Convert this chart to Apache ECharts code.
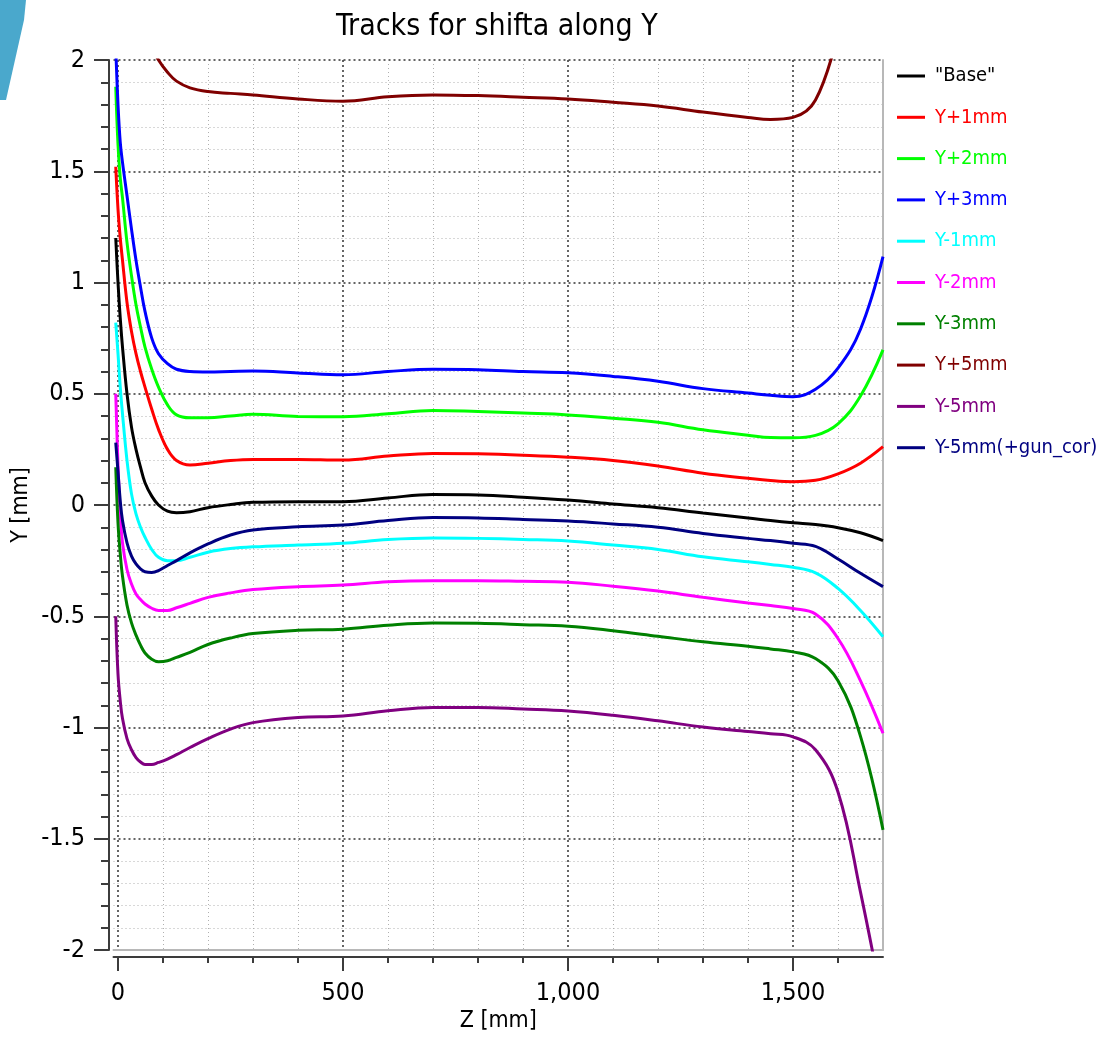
<!DOCTYPE html>
<html>
<head>
<meta charset="utf-8">
<script src="https://cdn.jsdelivr.net/npm/echarts@6/dist/echarts.min.js"></script>
<style>html,body{margin:0;padding:0;background:#fff}#main{width:1101px;height:1037px}</style>
</head>
<body>
<div id="main"></div>
<script>
var z = [-5, 0, 5, 10, 20, 30, 40, 50, 60, 75, 90, 110, 130, 160, 200, 250, 300, 400, 500, 600, 700, 800, 900, 1000, 1100, 1200, 1300, 1400, 1450, 1500, 1550, 1600, 1650, 1700]
var base = [1.20, 1.00, 0.84, 0.71, 0.50, 0.35, 0.25, 0.17, 0.10, 0.04, 0.0, -0.028, -0.035, -0.03, -0.012, 0.002, 0.012, 0.015, 0.015, 0.032, 0.047, 0.045, 0.035, 0.022, 0.005, -0.012, -0.036, -0.058, -0.07, -0.08, -0.088, -0.102, -0.125, -0.16]
var yp1 = [1.52, 1.33, 1.20, 1.10, 0.91, 0.78, 0.68, 0.60, 0.53, 0.43, 0.34, 0.25, 0.20, 0.18, 0.188, 0.20, 0.205, 0.205, 0.202, 0.22, 0.232, 0.23, 0.224, 0.215, 0.2, 0.175, 0.143, 0.12, 0.11, 0.105, 0.111, 0.14, 0.188, 0.262]
var yp2 = [1.88, 1.62, 1.47, 1.38, 1.18, 1.03, 0.90, 0.80, 0.71, 0.61, 0.53, 0.45, 0.405, 0.392, 0.392, 0.40, 0.408, 0.398, 0.397, 0.41, 0.425, 0.42, 0.413, 0.405, 0.39, 0.372, 0.338, 0.314, 0.303, 0.302, 0.313, 0.365, 0.49, 0.697]
var yp3 = [2.05, 1.80, 1.63, 1.54, 1.39, 1.24, 1.10, 0.98, 0.87, 0.75, 0.68, 0.635, 0.61, 0.60, 0.598, 0.60, 0.602, 0.593, 0.585, 0.60, 0.61, 0.608, 0.60, 0.594, 0.578, 0.556, 0.523, 0.503, 0.493, 0.487, 0.52, 0.615, 0.79, 1.116]
var ym1 = [0.82, 0.68, 0.53, 0.41, 0.20, 0.05, -0.04, -0.10, -0.145, -0.20, -0.235, -0.25, -0.25, -0.235, -0.212, -0.196, -0.188, -0.18, -0.172, -0.155, -0.148, -0.15, -0.155, -0.162, -0.18, -0.2, -0.233, -0.255, -0.267, -0.28, -0.305, -0.375, -0.474, -0.592]
var ym2 = [0.50, 0.18, -0.04, -0.17, -0.29, -0.355, -0.40, -0.425, -0.445, -0.464, -0.474, -0.474, -0.462, -0.442, -0.415, -0.395, -0.38, -0.367, -0.36, -0.345, -0.34, -0.34, -0.343, -0.347, -0.365, -0.387, -0.415, -0.44, -0.452, -0.465, -0.49, -0.6, -0.79, -1.026]
var ym3 = [0.17, -0.08, -0.22, -0.32, -0.45, -0.53, -0.585, -0.63, -0.665, -0.693, -0.704, -0.70, -0.685, -0.662, -0.627, -0.598, -0.578, -0.563, -0.558, -0.54, -0.53, -0.532, -0.538, -0.545, -0.565, -0.59, -0.615, -0.635, -0.647, -0.66, -0.69, -0.79, -1.04, -1.46]
var yp5 = [null, null, null, null, null, null, null, null, null, 2.06, 2.0, 1.945, 1.905, 1.875, 1.858, 1.85, 1.843, 1.825, 1.815, 1.835, 1.843, 1.84, 1.833, 1.825, 1.81, 1.793, 1.766, 1.742, 1.733, 1.742, 1.82, 2.12, null, null]
var ym5 = [-0.50, -0.76, -0.88, -0.96, -1.05, -1.10, -1.135, -1.155, -1.166, -1.166, -1.157, -1.142, -1.122, -1.09, -1.05, -1.007, -0.978, -0.955, -0.948, -0.925, -0.91, -0.91, -0.917, -0.926, -0.945, -0.97, -0.998, -1.018, -1.028, -1.042, -1.1, -1.29, -1.74, -2.25]
var ym5gun = [0.28, 0.15, 0.02, -0.07, -0.17, -0.23, -0.265, -0.287, -0.30, -0.303, -0.295, -0.272, -0.25, -0.215, -0.175, -0.135, -0.112, -0.098, -0.09, -0.07, -0.056, -0.058, -0.065, -0.072, -0.085, -0.1, -0.128, -0.15, -0.16, -0.172, -0.186, -0.243, -0.307, -0.367]

var names = ['"Base"', 'Y+1mm', 'Y+2mm', 'Y+3mm', 'Y-1mm', 'Y-2mm', 'Y-3mm', 'Y+5mm', 'Y-5mm', 'Y-5mm(+gun_cor)']
var colors = ['#000000', '#ff0000', '#00ff00', '#0000ff', '#00ffff', '#ff00ff', '#008000', '#800000', '#800080', '#000080']
var values = [base, yp1, yp2, yp3, ym1, ym2, ym3, yp5, ym5, ym5gun]
var xTicks = [0, 500, 1000, 1500]

var font = '"DejaVu Sans Condensed", "DejaVu Sans", sans-serif'
var axisDark = '#3c3c3c'

var chart = echarts.init(document.getElementById('main'))

var series = names.map(function (n, k) {
    var d = []
    z.forEach(function (zz, i) {
        if (values[k][i] != null) d.push([zz, values[k][i]])
    })
    return {
        name: n,
        type: 'line',
        data: d,
        symbol: 'none',
        smooth: 0.4,
        clip: true,
        color: colors[k],
        lineStyle: { color: colors[k], width: 3 }
    }
})

chart.setOption({
    backgroundColor: '#fff',
    animation: false,
    textStyle: { fontFamily: font },
    title: {
        text: 'Tracks for shifta along Y',
        left: 331,
        top: 7,
        textStyle: { fontFamily: font, fontSize: 30, fontWeight: 'normal', color: '#000' }
    },
    grid: {
        left: 113.5,
        right: 218,
        top: 60,
        bottom: 87,
        outerBoundsMode: 'none'
    },
    legend: {
        orient: 'vertical',
        left: 892,
        top: 61,
        icon: 'rect',
        itemWidth: 28,
        itemHeight: 3,
        itemGap: 21.3,
        textStyle: { fontFamily: font, fontSize: 20, lineHeight: 20, padding: [0, 0, 0, 5] },
        data: names.map(function (n, k) {
            return { name: n, textStyle: { color: colors[k] } }
        })
    },
    xAxis: [{
        type: 'value',
        min: -10,
        max: 1700,
        minInterval: 500,
        maxInterval: 500,
        position: 'bottom',
        offset: 7,
        name: 'Z [mm]',
        nameLocation: 'middle',
        nameGap: 53,
        nameMoveOverlap: false,
        nameTextStyle: { fontFamily: font, fontSize: 23, color: '#000' },
        axisLine: { show: true, onZero: false, lineStyle: { color: axisDark, width: 2 } },
        axisTick: { show: true, length: 14, customValues: xTicks, lineStyle: { color: axisDark, width: 2 } },
        minorTick: { show: true, splitNumber: 5, length: 6, lineStyle: { color: axisDark, width: 2 } },
        axisLabel: { margin: 24, fontSize: 25, color: '#000', fontFamily: font, customValues: xTicks },
        splitLine: { show: true, lineStyle: { color: '#333', type: [2, 3], width: 1.5 } },
        minorSplitLine: { show: true, lineStyle: { color: '#b0b0b0', type: [1, 3], width: 1 } }
    }, {
        type: 'value',
        min: -10,
        max: 1700,
        position: 'bottom',
        offset: 0,
        axisLine: { show: true, onZero: false, lineStyle: { color: '#b8b8b8', width: 2 } },
        axisTick: { show: false },
        axisLabel: { show: false },
        splitLine: { show: false }
    }],
    yAxis: [{
        type: 'value',
        min: -2,
        max: 2,
        interval: 0.5,
        position: 'left',
        offset: 4.5,
        name: 'Y [mm]',
        nameLocation: 'middle',
        nameGap: 76,
        nameMoveOverlap: false,
        nameTextStyle: { fontFamily: font, fontSize: 23, color: '#000' },
        axisLine: { show: true, onZero: false, lineStyle: { color: axisDark, width: 2 } },
        axisTick: { show: true, length: 15, lineStyle: { color: axisDark, width: 2 } },
        minorTick: { show: true, splitNumber: 5, length: 8, lineStyle: { color: axisDark, width: 2 } },
        axisLabel: { margin: 24, fontSize: 25, color: '#000', fontFamily: font },
        splitLine: { show: true, lineStyle: { color: '#333', type: [2, 3], width: 1.5 } },
        minorSplitLine: { show: true, lineStyle: { color: '#b0b0b0', type: [1, 3], width: 1 } }
    }, {
        type: 'value',
        min: -2,
        max: 2,
        position: 'right',
        axisLine: { show: true, onZero: false, lineStyle: { color: '#b8b8b8', width: 2 } },
        axisTick: { show: false },
        axisLabel: { show: false },
        splitLine: { show: false }
    }],
    graphic: [{
        type: 'polygon',
        shape: { points: [[0, 0], [26, 0], [24, 20], [6, 100], [0, 100]] },
        style: { fill: '#4aa8cc' },
        silent: true
    }],
    series: series
})
</script>
</body>
</html>
